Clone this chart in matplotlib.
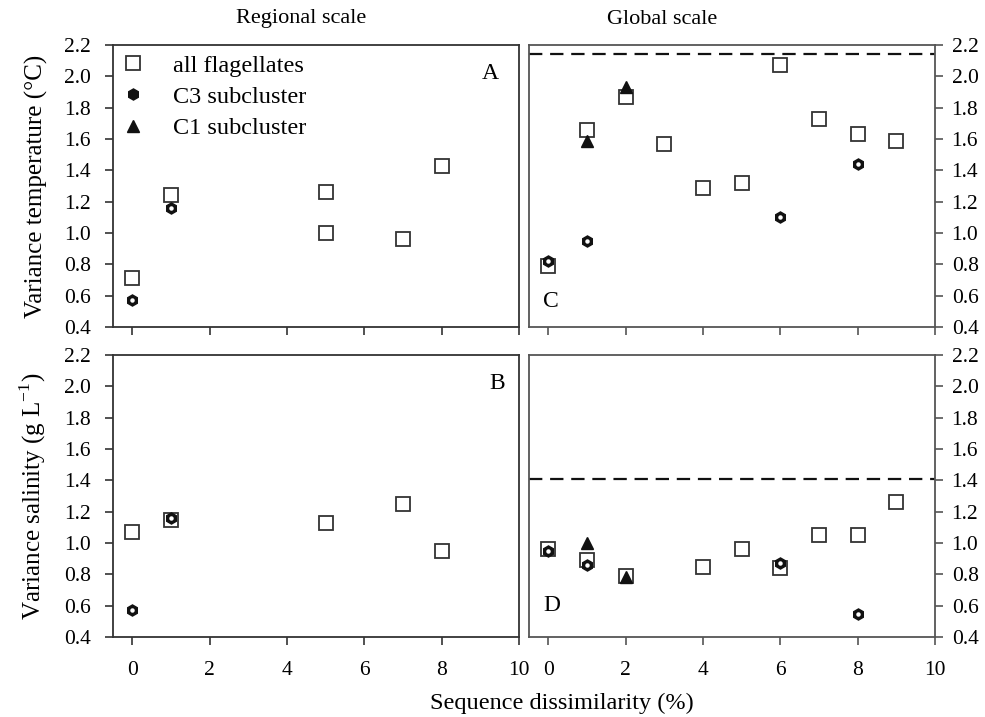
import matplotlib
matplotlib.use("Agg")
import matplotlib.pyplot as plt

plt.rcParams['font.family'] = ['Liberation Serif', 'DejaVu Serif']
plt.rcParams['mathtext.fontset'] = 'custom'
plt.rcParams['mathtext.rm'] = 'Liberation Serif'

# Panel A: regional, temperature
a_all_x = [0, 1, 5, 5, 7, 8]
a_all_y = [0.71, 1.24, 1.26, 1.00, 0.96, 1.43]
a_c3_x = [0, 1]
a_c3_y = [0.57, 1.16]

# Panel B: regional, salinity
b_all_x = [0, 1, 5, 7, 8]
b_all_y = [1.07, 1.15, 1.13, 1.25, 0.95]
b_c3_x = [0, 1]
b_c3_y = [0.57, 1.16]

# Panel C: global, temperature
c_all_x = [0, 1, 2, 3, 4, 5, 6, 7, 8, 9]
c_all_y = [0.79, 1.66, 1.87, 1.57, 1.29, 1.32, 2.07, 1.73, 1.63, 1.59]
c_c3_x = [0, 1, 6, 8]
c_c3_y = [0.82, 0.95, 1.10, 1.44]
c_c1_x = [1, 2]
c_c1_y = [1.59, 1.93]
c_ref = 2.14

# Panel D: global, salinity
d_all_x = [0, 1, 2, 4, 5, 6, 7, 8, 9]
d_all_y = [0.96, 0.89, 0.79, 0.85, 0.96, 0.84, 1.05, 1.05, 1.26]
d_c3_x = [0, 1, 6, 8]
d_c3_y = [0.95, 0.86, 0.87, 0.55]
d_c1_x = [1, 2]
d_c1_y = [1.00, 0.78]
d_ref = 1.41

yticks = [0.4, 0.6, 0.8, 1.0, 1.2, 1.4, 1.6, 1.8, 2.0, 2.2]
xticks = [0, 2, 4, 6, 8, 10]

fig = plt.figure(figsize=(9.85, 7.17), dpi=100)
W, H = 985, 717
def rect(x0, y0, x1, y1):
    return [x0 / W, 1 - y1 / H, (x1 - x0) / W, (y1 - y0) / H]

axA = fig.add_axes(rect(113, 45, 519, 327))
axB = fig.add_axes(rect(113, 355, 519, 637))
axC = fig.add_axes(rect(529, 45, 935, 327))
axD = fig.add_axes(rect(529, 355, 935, 637))

sq_kw = dict(marker='s', ms=10, mfc='white', mec='#333333', mew=1.3, ls='none', zorder=3)
hex_kw = dict(marker='h', ms=8, mfc='#111111', mec='#111111', ls='none', zorder=4)
dot_kw = dict(marker='o', ms=2.2, mfc='white', mec='white', ls='none', zorder=5)
tri_kw = dict(marker='^', ms=8, mfc='#111111', mec='#111111', ls='none', zorder=4)

FS = 15.5

def style(ax, right=False, spine_col='#333333'):
    ax.set_xlim(-0.5, 10)
    ax.set_ylim(0.4, 2.2)
    ax.set_yticks(yticks)
    ax.set_xticks(xticks)
    for s in ax.spines.values():
        s.set_color(spine_col)
        s.set_linewidth(1.3)
    ax.tick_params(direction='out', length=6, width=1.2, color=spine_col,
                   labelsize=FS)
    ax.tick_params(axis='x', pad=11)
    ax.tick_params(axis='y', pad=10 if not right else 6)
    ax.set_yticklabels([f"{v:.1f}" for v in yticks])
    if right:
        ax.yaxis.tick_right()
        ax.yaxis.set_label_position('right')

for ax in (axA, axB):
    style(ax)
for ax in (axC, axD):
    style(ax, right=True, spine_col='#555555')

axA.tick_params(labelbottom=False)
axC.tick_params(labelbottom=False)

# Panel A
axA.plot(a_all_x, a_all_y, label='all flagellates', **sq_kw)
axA.plot(a_c3_x, a_c3_y, label='C3 subcluster', **hex_kw)
axA.plot(a_c3_x, a_c3_y, **dot_kw)
axA.plot([], [], label='C1 subcluster', **tri_kw)
axA.legend(loc='upper left', frameon=False, fontsize=17.5, handlelength=1.0,
           handletextpad=1.15, labelspacing=0.38, borderaxespad=0.0,
           bbox_to_anchor=(-0.005, 1.0))
axA.text(0.95, 0.90, 'A', transform=axA.transAxes, fontsize=17, ha='right', va='center')

# Panel B
axB.plot(b_all_x, b_all_y, **sq_kw)
axB.plot(b_c3_x, b_c3_y, **hex_kw)
axB.plot(b_c3_x, b_c3_y, **dot_kw)
axB.text(0.965, 0.90, 'B', transform=axB.transAxes, fontsize=17, ha='right', va='center')

# Panel C
axC.axhline(c_ref, color='#111111', lw=1.6, ls=(0, (6, 3.5)), zorder=2)
axC.plot(c_all_x, c_all_y, **sq_kw)
axC.plot(c_c3_x, c_c3_y, **hex_kw)
axC.plot(c_c3_x, c_c3_y, **dot_kw)
axC.plot(c_c1_x, c_c1_y, **tri_kw)
axC.text(0.035, 0.09, 'C', transform=axC.transAxes, fontsize=17, ha='left', va='center')

# Panel D
axD.axhline(d_ref, color='#111111', lw=1.6, ls=(0, (6, 3.5)), zorder=2)
axD.plot(d_all_x, d_all_y, **sq_kw)
axD.plot(d_c3_x, d_c3_y, **hex_kw)
axD.plot(d_c3_x, d_c3_y, **dot_kw)
axD.plot(d_c1_x, d_c1_y, **tri_kw)
axD.text(0.035, 0.11, 'D', transform=axD.transAxes, fontsize=17, ha='left', va='center')

fig.text(301 / W, 1 - 19 / H, 'Regional scale', fontsize=16, ha='center', va='center')
fig.text(662 / W, 1 - 19 / H, 'Global scale', fontsize=16, ha='center', va='center')
axA.set_ylabel('Variance temperature (°C)', fontsize=18, labelpad=11)
axB.set_ylabel('Variance salinity (g L$^{-1}$)', fontsize=18, labelpad=11)
fig.text(562 / W, 1 - 703 / H, 'Sequence dissimilarity (%)', fontsize=17.5,
         ha='center', va='center')

fig.savefig('out.png', dpi=100)
